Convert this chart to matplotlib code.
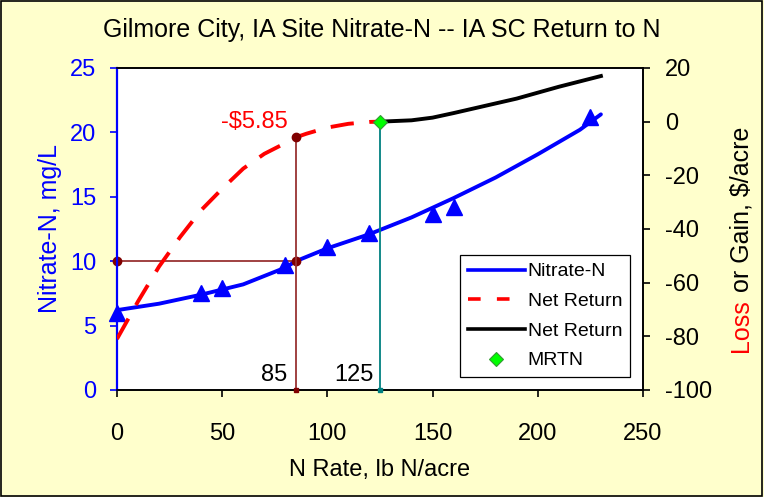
import matplotlib
matplotlib.use("Agg")
import matplotlib.pyplot as plt
from matplotlib.patches import Rectangle
from matplotlib.lines import Line2D

# ---- data ----
nitrate_obs_x = [0, 40, 50, 80, 100, 120, 150, 160, 225]
nitrate_obs_y = [6.0, 7.5, 7.9, 9.7, 11.1, 12.2, 13.7, 14.2, 21.2]

nitrate_fit_x = [0, 20, 40, 60, 80, 85, 100, 120, 140, 160, 180, 200, 220, 230]
nitrate_fit_y = [6.2, 6.7, 7.4, 8.2, 9.5, 10.0, 11.0, 12.1, 13.4, 14.9, 16.5, 18.3, 20.2, 21.4]

red_x = [0, 10, 20, 30, 40, 50, 60, 70, 80, 85, 90, 100, 110, 120, 125]
red_y = [-81, -67, -54, -43, -33, -25, -17.5, -12, -8, -5.85, -4.5, -2.2, -0.8, -0.1, 0]

black_x = [125, 140, 150, 160, 170, 180, 190, 200, 210, 220, 230]
black_y = [0, 0.5, 1.5, 3.2, 5.0, 6.8, 8.6, 10.8, 13.0, 15.0, 17.0]

mrtn_x = 125
mrtn_y = 0
ref_rate = 85
ref_nitrate = 10
ref_return = -5.85

x_ticks = [0, 50, 100, 150, 200, 250]
left_ticks = [0, 5, 10, 15, 20, 25]
right_ticks = [-100, -80, -60, -40, -20, 0, 20]

title = "Gilmore City, IA Site Nitrate-N -- IA SC Return to N"

plt.rcParams['font.family'] = ['Liberation Sans', 'DejaVu Sans']
plt.rcParams['axes.unicode_minus'] = False

fig = plt.figure(figsize=(7.64, 4.97), dpi=100)
fig.patch.set_facecolor('#FFFFCC')
fig.patches.append(Rectangle((0.001, 0.002), 0.997, 0.996, transform=fig.transFigure,
                             fill=False, edgecolor='black', linewidth=1.2))

ax = fig.add_axes([0.1531, 0.2153, 0.6885, 0.6479])
ax.set_facecolor('white')
ax2 = ax.twinx()
ax2.patch.set_visible(False)

# left axis content
ax.plot(nitrate_fit_x, nitrate_fit_y, color='#0000FF', lw=2.8, solid_capstyle='round', zorder=3)
ax.plot(nitrate_obs_x, nitrate_obs_y, linestyle='none', marker='^', markersize=11,
        color='#0000FF', zorder=4, clip_on=False)
ax.plot([0, ref_rate], [ref_nitrate, ref_nitrate], color='#993333', lw=1.3, zorder=2)
ax.plot([0, ref_rate], [ref_nitrate, ref_nitrate], linestyle='none', marker='o',
        markersize=6, color='#800000', zorder=5, clip_on=False)

ax.set_xlim(0, 250)
ax.set_ylim(0, 25)
ax.set_xticks(x_ticks)
ax.set_yticks(left_ticks)

# right axis content
ax2.plot(red_x, red_y, color='#FF0000', lw=2.8, dashes=(6, 4), zorder=3)
ax2.plot(black_x, black_y, color='black', lw=2.8, zorder=3)
ax2.plot([ref_rate, ref_rate], [-100, ref_return], color='#993333', lw=1.3, zorder=2)
ax2.plot([ref_rate], [ref_return], linestyle='none', marker='o', markersize=6, color='#800000', zorder=5)
ax2.plot([ref_rate], [-100], linestyle='none', marker='s', markersize=3, color='#800000',
         zorder=5, clip_on=False)
ax2.plot([mrtn_x, mrtn_x], [-100, mrtn_y], color='#008080', lw=1.3, zorder=2)
ax2.plot([mrtn_x], [-100], linestyle='none', marker='s', markersize=3, color='#008080',
         zorder=5, clip_on=False)
ax2.plot([mrtn_x], [mrtn_y], linestyle='none', marker='D', markersize=7,
         markerfacecolor='#00FF00', markeredgecolor='#339933', markeredgewidth=0.8, zorder=6)
ax2.set_ylim(-100, 20)
ax2.set_yticks(right_ticks)

# legend
handles = [
    Line2D([], [], color='#0000FF', lw=2.6),
    Line2D([], [], color='#FF0000', lw=2.6, dashes=(3.5, 4.5)),
    Line2D([], [], color='black', lw=2.6),
    Line2D([], [], linestyle='none', marker='D', markersize=7,
           markerfacecolor='#00FF00', markeredgecolor='#339933', markeredgewidth=0.8),
]
labels = ['Nitrate-N', 'Net Return', 'Net Return', 'MRTN']
leg = ax2.legend(handles, labels, loc='lower right', bbox_to_anchor=(0.975, 0.04),
                 fontsize=14, frameon=True, fancybox=False, edgecolor='black',
                 framealpha=1, handlelength=2.9, handletextpad=0.15, labelspacing=0.62,
                 borderpad=0.4, borderaxespad=0)
leg.get_frame().set_linewidth(0.9)

# annotations
ax2.text(ref_rate - 4, ref_return + 1.5, "-$5.85", color='#FF0000', fontsize=17,
         ha='right', va='bottom')
ax.text(ref_rate - 4, 0.3, "85", color='black', fontsize=17, ha='right', va='bottom')
ax.text(mrtn_x - 3, 0.3, "125", color='black', fontsize=17, ha='right', va='bottom')

# styling
for a in (ax, ax2):
    for s in a.spines.values():
        s.set_linewidth(1.2)
        s.set_color('black')
ax2.spines['left'].set_color('#0000FF')
ax2.spines['left'].set_linewidth(1.6)
ax.tick_params(axis='y', colors='#0000FF', labelsize=17, direction='out', length=5, width=1.2, pad=10)
ax.tick_params(axis='x', colors='black', labelsize=17, direction='out', length=5, width=1.2, pad=19)
ax2.tick_params(axis='y', colors='black', labelsize=17, direction='out', length=5, width=1.2, pad=11)

ax.set_xlabel("N Rate, lb N/acre", fontsize=17, labelpad=10)
ax.set_ylabel("Nitrate-N, mg/L", fontsize=18, color='#0000FF', labelpad=6)

fig.text(0.5, 1 - 30 / 497, title, ha='center', va='center', fontsize=18)

# right-axis label with two colours
fig.canvas.draw()
renderer = fig.canvas.get_renderer()
xpos = 741 / 764
ybot = 1 - 352 / 497
t1 = fig.text(xpos, ybot, "Loss", rotation=90, color='#FF0000', fontsize=18,
              ha='center', va='bottom')
bb = t1.get_window_extent(renderer)
ytop = bb.y1 / fig.bbox.height
fig.text(xpos, ytop, " or Gain, $/acre", rotation=90, color='black', fontsize=18,
         ha='center', va='bottom')

fig.savefig("out.png", dpi=100, facecolor=fig.get_facecolor())
